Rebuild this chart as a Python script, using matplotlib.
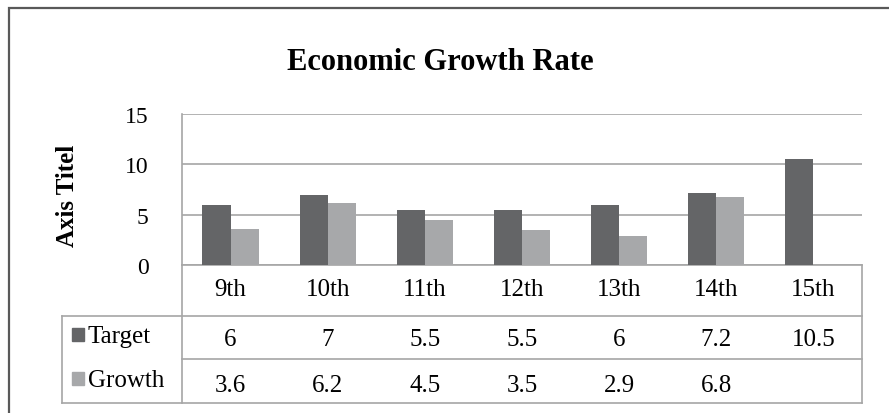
import numpy as np
import matplotlib
matplotlib.use("Agg")
import matplotlib.pyplot as plt
from matplotlib.patches import Rectangle
from matplotlib.transforms import blended_transform_factory

# data
categories = ["9th", "10th", "11th", "12th", "13th", "14th", "15th"]
target = [6, 7, 5.5, 5.5, 6, 7.2, 10.5]
growth = [3.6, 6.2, 4.5, 3.5, 2.9, 6.8, np.nan]
y_ticks = [0, 5, 10, 15]
series_names = ["Target", "Growth"]

DARK = "#646567"
LIGHT = "#a7a8aa"
GRID = "#a6a6a6"
FRAME = "#595959"

W, H = 889, 414
plt.rcParams["font.family"] = ["Liberation Serif", "DejaVu Serif"]

fig = plt.figure(figsize=(W / 100, H / 100), dpi=100)


def px_box(x0, y0, x1, y1):
    """Pixel box (top-left origin) -> figure fraction [l, b, w, h]."""
    return [x0 / W, 1 - y1 / H, (x1 - x0) / W, (y1 - y0) / H]


PLOT_L, PLOT_T, PLOT_R, PLOT_B = 182, 115, 862, 266
ax = fig.add_axes(px_box(PLOT_L, PLOT_T, PLOT_R, PLOT_B))
pw, ph = PLOT_R - PLOT_L, PLOT_B - PLOT_T


def ay(y_px):
    """Pixel row -> axes fraction (below the axes is negative)."""
    return (PLOT_B - y_px) / ph


def axx(x_px):
    return (x_px - PLOT_L) / pw


x = np.arange(len(categories))
bw = 0.29
ax.bar(x - bw / 2, target, bw, color=DARK, zorder=3)
ax.bar(x + bw / 2, growth, bw, color=LIGHT, zorder=3)

ax.set_yticks(y_ticks)
ax.set_xticks([])
ax.yaxis.grid(True, color=GRID, lw=1.2, zorder=0)
ax.tick_params(axis="y", length=0, pad=24, labelsize=17)
for side in ["top", "right"]:
    ax.spines[side].set_visible(False)
for side in ["left", "bottom"]:
    ax.spines[side].set_color(GRID)
    ax.spines[side].set_linewidth(1.2)

# data table below the plot area
blend = blended_transform_factory(ax.transData, ax.transAxes)
y_l1, y_l2, y_l3 = ay(317), ay(360), ay(404)
x_leg = axx(62)

line_kw = dict(color=GRID, lw=1.2, transform=ax.transAxes, clip_on=False)
ax.plot([x_leg, 1], [y_l1, y_l1], **line_kw)
ax.plot([0, 1], [y_l2, y_l2], **line_kw)
ax.plot([x_leg, 1], [y_l3, y_l3], **line_kw)
ax.plot([0, 0], [0, y_l3], **line_kw)
ax.plot([1, 1], [0, y_l3], **line_kw)
ax.plot([x_leg, x_leg], [y_l1, y_l3], **line_kw)

FS = 18
for i, cat in enumerate(categories):
    ax.text(i, ay(296), cat, transform=blend, ha="center", va="baseline",
            fontsize=FS, clip_on=False)
for base_y, values in [(ay(346), target), (ay(392), growth)]:
    for i, v in enumerate(values):
        if np.isnan(v):
            continue
        ax.text(i, base_y, f"{v:g}", transform=blend, ha="center",
                va="baseline", fontsize=FS, clip_on=False)

# legend keys inside the table
sq_w, sq_h = 12 / pw, 13 / ph
for sq_mid, text_base, name, col in [(335.5, 343, series_names[0], DARK),
                                     (379.5, 387, series_names[1], LIGHT)]:
    ax.add_patch(Rectangle((axx(72), ay(sq_mid) - sq_h / 2), sq_w, sq_h,
                           color=col, transform=ax.transAxes, clip_on=False))
    ax.text(axx(88), ay(text_base), name, transform=ax.transAxes,
            ha="left", va="baseline", fontsize=FS, clip_on=False)

ax.set_xlim(-0.5, len(categories) - 0.5)
ax.set_ylim(0, 15)

fig.text(440 / W, 1 - 62 / H, "Economic Growth Rate", ha="center", va="center",
         fontsize=22, fontweight="bold")
fig.text(68 / W, 1 - 196 / H, "Axis Titel", ha="center", va="center",
         rotation=90, fontsize=18, fontweight="bold")

# outer chart frame (cut off at right and bottom like the reference)
fig.patches.append(Rectangle((9 / W, -0.1), 1.2, 1 - 9 / H + 0.1, fill=False,
                             ec=FRAME, lw=1.6, transform=fig.transFigure))

fig.savefig("out.png", dpi=100)
